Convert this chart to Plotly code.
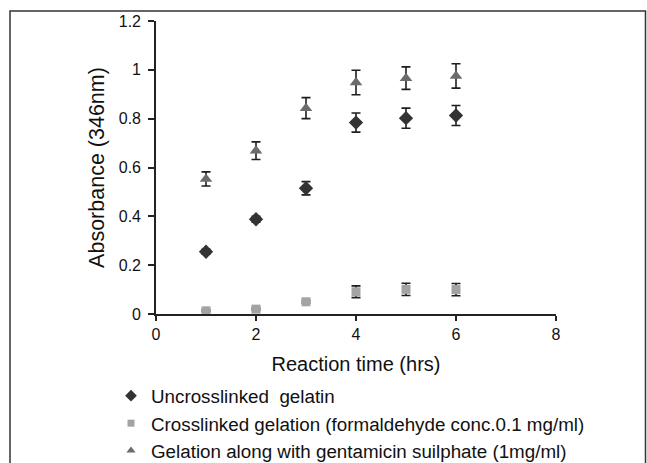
import plotly.graph_objects as go

# Data
times = [1, 2, 3, 4, 5, 6]

uncross_vals = [0.255, 0.388, 0.515, 0.784, 0.802, 0.813]
uncross_err = [0.010, 0.012, 0.027, 0.039, 0.041, 0.041]

cross_vals = [0.013, 0.020, 0.050, 0.091, 0.101, 0.100]
cross_err = [0.004, 0.004, 0.005, 0.024, 0.025, 0.025]

genta_vals = [0.553, 0.669, 0.843, 0.948, 0.966, 0.975]
genta_err = [0.029, 0.036, 0.043, 0.050, 0.046, 0.050]

series_names = [
    "Uncrosslinked  gelatin",
    "Crosslinked gelation (formaldehyde conc.0.1 mg/ml)",
    "Gelation along with gentamicin suilphate (1mg/ml)",
]

x_ticks = [0, 2, 4, 6, 8]
y_ticks = [0, 0.2, 0.4, 0.6, 0.8, 1, 1.2]
y_ticktext = ["0", "0.2", "0.4", "0.6", "0.8", "1", "1.2"]

FONT = "Liberation Sans, Arial, sans-serif"
ERR_COLOR = "#1e1e1e"

styles = [
    ("diamond", "#333333", 11, 9),
    ("square", "#a3a3a3", 9, 7),
    ("triangle-up", "#6b6b6b", 11, 8),
]
values = [uncross_vals, cross_vals, genta_vals]
errors = [uncross_err, cross_err, genta_err]

fig = go.Figure()

for name, vals, errs, (sym, col, size, lsize) in zip(series_names, values, errors, styles):
    fig.add_trace(go.Scatter(
        x=times, y=vals, mode="markers", name=name, showlegend=False,
        marker=dict(symbol=sym, color=col, size=size, line=dict(width=0)),
        error_y=dict(type="data", array=errs, visible=True,
                     color=ERR_COLOR, thickness=1.6, width=4.5),
    ))

# legend entries (smaller symbols, as in the reference legend)
for name, (sym, col, size, lsize) in zip(series_names, styles):
    fig.add_trace(go.Scatter(
        x=[None], y=[None], mode="markers", name=name, showlegend=True,
        marker=dict(symbol=sym, color=col, size=lsize, line=dict(width=0)),
    ))

W, H = 647, 463
L, T = 156, 21
R = W - 556
B = H - 314
pw, ph = W - L - R, H - T - B

def px_to_paper_x(px):
    return (px - L) / pw

def px_to_paper_y(py):
    return (H - B - py) / ph

# outer frame of the figure panel
fig.add_shape(type="rect", xref="paper", yref="paper",
              x0=px_to_paper_x(10), x1=px_to_paper_x(645.5),
              y0=px_to_paper_y(490), y1=px_to_paper_y(11),
              line=dict(color="#333333", width=1.5), layer="below")

fig.update_layout(
    width=W, height=H,
    margin=dict(l=L, r=R, t=T, b=B, autoexpand=False),
    paper_bgcolor="white", plot_bgcolor="white",
    font=dict(family=FONT, color="#111111", size=16),
    showlegend=True,
    legend=dict(
        x=px_to_paper_x(111), xanchor="left",
        y=px_to_paper_y(377), yanchor="top",
        font=dict(family=FONT, size=18.8, color="#111111"),
        bgcolor="rgba(0,0,0,0)",
        traceorder="normal",
        itemsizing="trace",
    ),
    xaxis=dict(
        range=[0, 8], tickvals=x_ticks, ticktext=[str(v) for v in x_ticks],
        showline=True, linecolor="#222222", linewidth=1.6,
        ticks="outside", ticklen=5, tickwidth=1.6, tickcolor="#222222",
        showgrid=False, zeroline=False,
        tickfont=dict(size=16),
        title=dict(text="Reaction time (hrs)", font=dict(size=20), standoff=15),
    ),
    yaxis=dict(
        range=[0, 1.2], tickvals=y_ticks, ticktext=y_ticktext,
        showline=True, linecolor="#222222", linewidth=1.6,
        ticks="outside", ticklen=6, tickwidth=1.6, tickcolor="#222222",
        showgrid=False, zeroline=False,
        tickfont=dict(size=16), ticklabelstandoff=4,
        title=dict(text="Absorbance (346nm)", font=dict(size=21.5), standoff=8),
    ),
)

fig.write_html(
    "out.html",
    config={"displayModeBar": False},
    post_script="document.body.style.margin='0';document.body.style.overflow='hidden';",
)
